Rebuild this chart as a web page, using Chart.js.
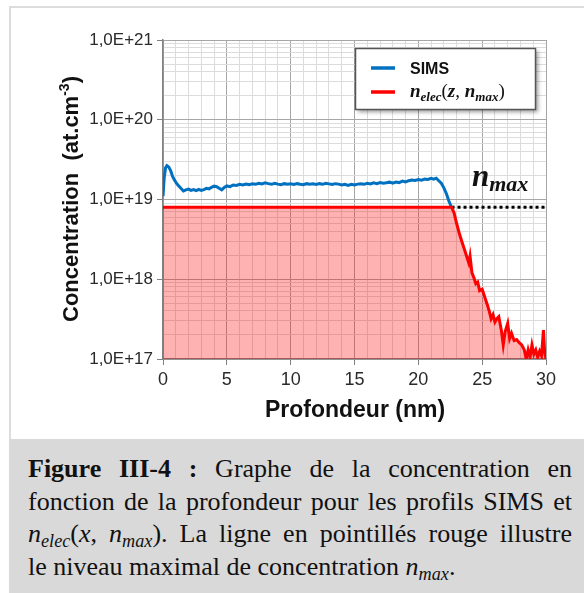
<!DOCTYPE html>
<html>
<head>
<meta charset="utf-8">
<script src="https://cdn.jsdelivr.net/npm/chart.js@4"></script>
<style>
html, body { margin:0; padding:0; background:#fff; }
#page { position:relative; width:584px; height:593px; overflow:hidden; }
#frame { position:absolute; left:9px; top:6px; width:590px; height:440px; border-left:2px solid #dcdcdc; border-top:2px solid #dcdcdc; }
#chart { position:absolute; left:0; top:0; }
#caption { position:absolute; left:9px; top:439px; width:575px; height:154px; background:#d9d9d9; box-sizing:border-box;
  padding:14px 12px 0 19px; font-family:'Liberation Serif', serif; font-size:26px; line-height:32.5px; color:#111; }
.j { text-align:justify; text-align-last:justify; }
sub { font-size:0.7em; vertical-align:-0.28em; line-height:0; }
</style>
</head>
<body>
<div id="page">
  <div id="frame"></div>
  <canvas id="chart" width="584" height="440"></canvas>
  <div id="caption">
    <div class="j"><b>Figure III-4 :</b> Graphe de la concentration en</div>
    <div class="j">fonction de la profondeur pour les profils SIMS et</div>
    <div class="j"><i>n</i><sub><i>elec</i></sub>(<i>x</i>, <i>n</i><sub><i>max</i></sub>). La ligne en pointillés rouge illustre</div>
    <div>le niveau maximal de concentration <i>n</i><sub><i>max</i></sub>.</div>
  </div>
</div>
<script>
// SIMS profile (depth in nm, concentration in at.cm-3)
const depthSims = [0, 0.1, 0.2, 0.3, 0.45, 0.6, 0.75, 0.9, 1.05, 1.2, 1.4, 1.6, 1.8, 2.0, 2.2, 2.4, 2.6, 2.8, 3.0, 3.2,
  3.4, 3.6, 3.8, 4.0, 4.2, 4.4, 4.6, 4.8, 5.0, 5.25, 5.5, 5.75, 6.0, 6.25, 6.5, 6.75, 7.0, 7.25, 7.5, 7.75,
  8.0, 8.25, 8.5, 8.75, 9.0, 9.25, 9.5, 9.75, 10.0, 10.25, 10.5, 10.75, 11.0, 11.25, 11.5, 11.75, 12.0, 12.25, 12.5, 12.75,
  13.0, 13.25, 13.5, 13.75, 14.0, 14.25, 14.5, 14.75, 15.0, 15.25, 15.5, 15.75, 16.0, 16.25, 16.5, 16.75, 17.0, 17.25, 17.5, 17.75,
  18.0, 18.25, 18.5, 18.75, 19.0, 19.25, 19.5, 19.75, 20.0, 20.25, 20.5, 20.75, 21.0, 21.2, 21.4, 21.6, 21.8, 22.0, 22.2, 22.4, 22.6];
const sims = [1.1e19, 1.9e19, 2.5e19, 2.65e19, 2.55e19, 2.3e19, 1.95e19, 1.75e19, 1.6e19, 1.5e19, 1.38e19, 1.28e19, 1.32e19, 1.35e19, 1.3e19, 1.33e19, 1.29e19, 1.34e19, 1.3e19, 1.33e19,
  1.38e19, 1.36e19, 1.42e19, 1.47e19, 1.45e19, 1.38e19, 1.32e19, 1.42e19, 1.48e19, 1.45e19, 1.52e19, 1.5e19, 1.55e19, 1.52e19, 1.56e19, 1.53e19, 1.57e19, 1.55e19, 1.6e19, 1.57e19,
  1.62e19, 1.58e19, 1.55e19, 1.6e19, 1.56e19, 1.53e19, 1.58e19, 1.55e19, 1.57e19, 1.54e19, 1.58e19, 1.55e19, 1.53e19, 1.58e19, 1.55e19, 1.57e19, 1.54e19, 1.58e19, 1.55e19, 1.6e19,
  1.57e19, 1.54e19, 1.58e19, 1.56e19, 1.52e19, 1.55e19, 1.5e19, 1.55e19, 1.52e19, 1.56e19, 1.58e19, 1.55e19, 1.6e19, 1.57e19, 1.62e19, 1.58e19, 1.63e19, 1.6e19, 1.62e19, 1.65e19,
  1.6e19, 1.66e19, 1.63e19, 1.7e19, 1.66e19, 1.72e19, 1.76e19, 1.73e19, 1.78e19, 1.75e19, 1.8e19, 1.78e19, 1.84e19, 1.8e19, 1.85e19, 1.72e19, 1.6e19, 1.4e19, 1.18e19, 0.95e19, 0.8e19];

// n_elec(z, n_max) profile
const depthElec = [0, 22.6, 22.8, 23.0, 23.2, 23.4, 23.6, 23.8, 23.95, 24.05, 24.2, 24.35, 24.5, 24.65, 24.8, 25.0, 25.2, 25.4, 25.55, 25.7,
  25.85, 26.0, 26.15, 26.3, 26.5, 26.65, 26.8, 27.0, 27.15, 27.3, 27.5, 27.7, 27.9, 28.1, 28.3, 28.45, 28.6, 28.75, 28.9, 29.05,
  29.2, 29.35, 29.5, 29.65, 29.8, 29.9, 30.0];
const nElec = [8e18, 8e18, 6.8e18, 5.0e18, 3.8e18, 3.0e18, 2.4e18, 1.9e18, 1.6e18, 1.95e18, 1.2e18, 1.05e18, 8.8e17, 9.2e17, 7.2e17, 7.5e17, 6e17, 4.8e17, 4e17, 3.2e17,
  3.6e17, 2.9e17, 3.2e17, 3.4e17, 2.3e17, 1.5e17, 2.2e17, 2.8e17, 1.8e17, 2.1e17, 1.7e17, 1.75e17, 1.6e17, 1.5e17, 1.3e17, 1.0e17, 1.3e17, 1.05e17, 1.5e17, 1.15e17,
  1.3e17, 1.05e17, 1.25e17, 1.1e17, 2.3e17, 1.2e17, 1.0e17];

// n_max level (dotted)
const nMax = 8e18;
const depthMax = [22.6, 30];

const decadeLabels = ['1,0E+17', '1,0E+18', '1,0E+19', '1,0E+20', '1,0E+21'];

const pts = (xs, ys) => xs.map((x, i) => ({ x: x, y: ys[i] }));
const isDecade = v => { const e = Math.log10(v); return Math.abs(e - Math.round(e)) < 1e-6; };

function runsWidth(ctx, runs) {
  let w = 0;
  for (const r of runs) { ctx.font = r[1]; w += ctx.measureText(r[0]).width; }
  return w;
}
function drawRuns(ctx, runs, x, y) {
  for (const r of runs) {
    ctx.font = r[1];
    ctx.fillText(r[0], x, y + (r[2] || 0));
    x += ctx.measureText(r[0]).width;
  }
  return x;
}

const SANS = '"Liberation Sans", Arial, sans-serif';
const SERIF = '"Liberation Serif", "Times New Roman", serif';

const overlay = {
  id: 'overlay',
  afterDraw(chart) {
    const ctx = chart.ctx;
    ctx.save();
    ctx.textAlign = 'left';
    ctx.textBaseline = 'alphabetic';
    ctx.fillStyle = '#111';

    // y title
    const yRuns = [['Concentration  (at.cm', 'bold 22px ' + SANS, 0], ['-3', 'bold 14px ' + SANS, -9], [')', 'bold 22px ' + SANS, 0]];
    const yw = runsWidth(ctx, yRuns);
    ctx.save();
    ctx.translate(78, 199);
    ctx.rotate(-Math.PI / 2);
    drawRuns(ctx, yRuns, -yw / 2, 0);
    ctx.restore();

    // x title
    ctx.font = 'bold 23px ' + SANS;
    ctx.textAlign = 'center';
    ctx.fillText('Profondeur (nm)', 355, 417);
    ctx.textAlign = 'left';

    // legend box
    ctx.save();
    ctx.shadowColor = 'rgba(0,0,0,0.4)';
    ctx.shadowOffsetX = 3;
    ctx.shadowOffsetY = 3;
    ctx.shadowBlur = 4;
    ctx.fillStyle = '#fff';
    ctx.fillRect(355, 48, 180, 61);
    ctx.restore();
    ctx.strokeStyle = '#555';
    ctx.lineWidth = 1.5;
    ctx.strokeRect(355.5, 48.5, 180, 61);

    ctx.lineWidth = 3.5;
    ctx.strokeStyle = '#0070c0';
    ctx.beginPath(); ctx.moveTo(371, 68); ctx.lineTo(395, 68); ctx.stroke();
    ctx.strokeStyle = '#ff0000';
    ctx.beginPath(); ctx.moveTo(371, 92); ctx.lineTo(395, 92); ctx.stroke();

    ctx.fillStyle = '#111';
    ctx.font = 'bold 16px ' + SANS;
    ctx.fillText('SIMS', 410, 74);
    const bi = 'bold italic 19px ' + SERIF, bs = 'bold italic 13px ' + SERIF, up = '19px ' + SERIF;
    drawRuns(ctx, [['n', bi], ['elec', bs, 4], ['(', up], ['z', bi], [', ', up], ['n', bi], ['max', bs, 4], [')', up]], 410, 97);

    // n_max label
    drawRuns(ctx, [['n', 'bold italic 31px ' + SERIF, 0], ['max', 'bold italic 22px ' + SERIF, 5]], 472, 186);
    ctx.restore();
  }
};

new Chart(document.getElementById('chart'), {
  type: 'line',
  data: {
    datasets: [
      {
        label: 'nelec',
        data: pts(depthElec, nElec),
        borderColor: '#ff0000',
        backgroundColor: 'rgba(255, 0, 0, 0.3)',
        borderWidth: 3,
        fill: 'start',
        pointRadius: 0,
        tension: 0
      },
      {
        label: 'SIMS',
        data: pts(depthSims, sims),
        borderColor: '#0070c0',
        borderWidth: 3,
        fill: false,
        pointRadius: 0,
        tension: 0
      },
      {
        label: 'nmax',
        data: depthMax.map(x => ({ x: x, y: nMax })),
        borderColor: '#000',
        borderWidth: 3,
        borderDash: [3, 3],
        fill: false,
        pointRadius: 0
      }
    ]
  },
  options: {
    responsive: false,
    animation: false,
    devicePixelRatio: 1,
    layout: { padding: { left: 0, top: 40, right: 38, bottom: 0 } },
    plugins: { legend: { display: false }, tooltip: { enabled: false } },
    scales: {
      x: {
        type: 'linear',
        min: 0,
        max: 30,
        afterFit: s => { s.height = 81; },
        ticks: {
          stepSize: 1,
          autoSkip: false,
          maxRotation: 0,
          padding: 4,
          color: '#2a2a2a',
          font: { family: SANS, size: 18 },
          callback: v => (v % 5 === 0 ? String(v) : '')
        },
        grid: {
          color: c => (c.tick && c.tick.value % 5 === 0 ? '#a6a6a6' : '#dcdcdc'),
          tickColor: c => (c.tick && c.tick.value % 5 === 0 ? '#808080' : 'rgba(0,0,0,0)'),
          tickLength: 6,
          lineWidth: 1
        },
        border: { color: '#808080', width: 1.5 }
      },
      y: {
        type: 'logarithmic',
        min: 1e17,
        max: 1e21,
        afterFit: s => { s.width = 163; },
        afterBuildTicks: s => {
          s.ticks = s.ticks.filter(t => {
            const m = t.value / Math.pow(10, Math.floor(Math.log10(t.value) + 1e-9));
            return Math.abs(m - 1.5) > 1e-6;
          });
        },
        ticks: {
          autoSkip: false,
          padding: 4,
          color: '#2a2a2a',
          font: { family: SANS, size: 17 },
          callback: v => (isDecade(v) ? decadeLabels[Math.round(Math.log10(v)) - 17] : '')
        },
        grid: {
          color: c => (c.tick && isDecade(c.tick.value) ? '#a6a6a6' : '#dcdcdc'),
          tickColor: c => (c.tick && isDecade(c.tick.value) ? '#808080' : 'rgba(0,0,0,0)'),
          tickLength: 6,
          lineWidth: 1
        },
        border: { color: '#808080', width: 1.5 }
      }
    }
  },
  plugins: [overlay]
});
</script>
</body>
</html>
